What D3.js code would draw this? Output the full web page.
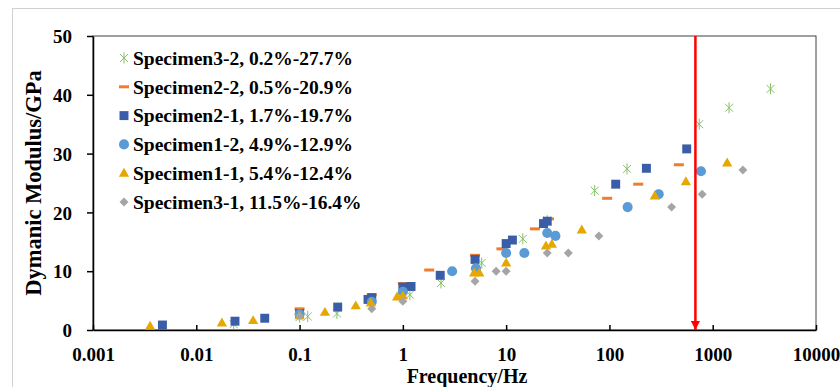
<!DOCTYPE html>
<html>
<head>
<meta charset="utf-8">
<script src="https://cdn.jsdelivr.net/npm/d3@7"></script>
<style>
  body { margin: 0; background: #fff; }
  svg { display: block; }
  .tick-label { font-family: "Liberation Serif", "Times New Roman", serif; font-weight: bold; font-size: 19px; }
  .legend-text { font-family: "Liberation Serif", "Times New Roman", serif; font-weight: bold; font-size: 19.5px; }
  .axis-title { font-family: "Liberation Serif", "Times New Roman", serif; font-weight: bold; font-size: 20px; }
</style>
</head>
<body>
<div id="chart"></div>
<script>
// [frequency Hz, modulus GPa]
const specimen32 = [[0.023, 1.0], [0.1, 2.2], [0.12, 2.3], [0.23, 2.8], [1.17, 6.0], [2.34, 8.0],
  [5.8, 11.4], [14.5, 15.5], [25, 18.6], [72, 23.7], [148, 27.4], [740, 35], [1440, 37.8], [3630, 41]]
const specimen22 = [[0.1, 3.6], [0.5, 6.0], [1, 7.9], [1.8, 10.2], [5, 12.7], [9, 13.8], [19, 17.2],
  [26, 18.9], [95, 22.4], [190, 24.8], [470, 28.1]]
const specimen21 = [[0.0047, 0.85], [0.0237, 1.5], [0.046, 2.0], [0.1, 2.8], [0.234, 3.9], [0.46, 5.2],
  [0.5, 5.5], [1, 7.3], [1.2, 7.4], [2.3, 9.3], [5, 12], [10, 14.7], [11.5, 15.3], [23, 18.1], [25, 18.5],
  [115, 24.8], [228, 27.5], [560, 30.8]]
const specimen12 = [[0.1, 2.7], [0.5, 4.8], [1, 6.5], [3, 10], [5.1, 10.5], [10, 13.1], [15, 13.1],
  [25, 16.5], [30, 16], [150, 20.9], [300, 23.1], [770, 27]]
const specimen11 = [[0.00357, 0.65], [0.0177, 1.2], [0.0355, 1.6], [0.1, 2.4], [0.176, 3.0], [0.35, 4.1],
  [0.49, 4.6], [0.88, 5.6], [1, 5.8], [4.9, 9.7], [5.5, 9.7], [10, 11.4], [24.3, 14.3], [27.7, 14.6],
  [54, 17], [275, 22.8], [550, 25.2], [1380, 28.4]]
const specimen31 = [[0.1, 2.4], [0.5, 3.6], [1, 4.9], [5, 8.3], [8, 10], [10, 10], [25, 13.1], [40, 13.1],
  [79, 16], [400, 20.9], [790, 23.1], [1960, 27.2]]

const seriesNames = ['Specimen3-2, 0.2%-27.7%', 'Specimen2-2, 0.5%-20.9%', 'Specimen2-1, 1.7%-19.7%',
  'Specimen1-2, 4.9%-12.9%', 'Specimen1-1, 5.4%-12.4%', 'Specimen3-1, 11.5%-16.4%']
const xTicks = [0.001, 0.01, 0.1, 1, 10, 100, 1000, 10000]
const yTicks = [0, 10, 20, 30, 40, 50]
const redLineFreq = 680

const series = [
  { name: seriesNames[0], data: specimen32, shape: 'asterisk', color: '#86bf67' },
  { name: seriesNames[1], data: specimen22, shape: 'dash', color: '#ed7d31' },
  { name: seriesNames[2], data: specimen21, shape: 'square', color: '#3a5da8' },
  { name: seriesNames[3], data: specimen12, shape: 'circle', color: '#5b9bd5' },
  { name: seriesNames[4], data: specimen11, shape: 'triangle', color: '#e5a700' },
  { name: seriesNames[5], data: specimen31, shape: 'diamond', color: '#a5a5a5' },
]

const W = 840, H = 387
const margin = { top: 36, right: 24, bottom: 57, left: 93 }

const svg = d3.select('#chart').append('svg')
  .attr('width', W)
  .attr('height', H)

// outer chart frame
svg.append('rect')
  .attr('x', 12.5).attr('y', 8.5)
  .attr('width', W).attr('height', H)
  .attr('fill', 'none')
  .attr('stroke', '#d0d0d0')

const x = d3.scaleLog()
  .domain([0.001, 10000])
  .range([margin.left, W - margin.right])

const y = d3.scaleLinear()
  .domain([0, 50])
  .range([H - margin.bottom, margin.top])

// plot area border (top, right)
svg.append('rect')
  .attr('x', x(0.001)).attr('y', y(50))
  .attr('width', x(10000) - x(0.001))
  .attr('height', y(0) - y(50))
  .attr('fill', 'none')
  .attr('stroke', '#404040')
  .attr('stroke-width', 1)

const xAxis = svg.append('g')
  .attr('transform', 'translate(0,' + y(0) + ')')
  .call(d3.axisBottom(x).tickValues(xTicks).tickFormat(d => String(d)).tickSize(-5).tickSizeOuter(0).tickPadding(18))
xAxis.select('.domain').attr('stroke', '#000').attr('stroke-width', 1.5)
xAxis.selectAll('.tick line').attr('stroke', '#000').attr('stroke-width', 1.5)
xAxis.selectAll('.tick text').attr('class', 'tick-label').attr('fill', '#000')
xAxis.attr('font-family', null).attr('font-size', null)

const yAxis = svg.append('g')
  .attr('transform', 'translate(' + x(0.001) + ',0)')
  .call(d3.axisLeft(y).tickValues(yTicks).tickSize(6).tickSizeOuter(0).tickPadding(15))
yAxis.select('.domain').attr('stroke', '#000').attr('stroke-width', 1.5)
yAxis.selectAll('.tick line').attr('stroke', '#000').attr('stroke-width', 1.5)
yAxis.selectAll('.tick text').attr('class', 'tick-label').attr('fill', '#000').attr('dy', '0.35em')
yAxis.attr('font-family', null).attr('font-size', null)

function drawMarker(g, shape, color) {
  if (shape === 'square') {
    g.append('path').attr('d', d3.symbol(d3.symbolSquare, 80)()).attr('fill', color)
  } else if (shape === 'circle') {
    g.append('path').attr('d', d3.symbol(d3.symbolCircle, 80)()).attr('fill', color)
  } else if (shape === 'triangle') {
    g.append('path').attr('d', d3.symbol(d3.symbolTriangle, 46)()).attr('fill', color)
      .attr('transform', 'translate(0,0.5)')
  } else if (shape === 'diamond') {
    g.append('path').attr('d', d3.symbol(d3.symbolSquare, 40)()).attr('fill', color)
      .attr('transform', 'rotate(45)')
  } else if (shape === 'dash') {
    g.append('rect').attr('x', -5).attr('y', -1.5).attr('width', 10).attr('height', 3).attr('fill', color)
  } else if (shape === 'asterisk') {
    const r = 5.5, d = r * 0.72
    g.append('path')
      .attr('d', `M0,${-r}L0,${r}M${-d},${-d}L${d},${d}M${-d},${d}L${d},${-d}`)
      .attr('stroke', color).attr('stroke-width', 1).attr('fill', 'none')
  }
}

series.forEach(s => {
  svg.append('g').selectAll('g')
    .data(s.data)
    .enter().append('g')
    .attr('transform', d => 'translate(' + x(d[0]) + ',' + y(d[1]) + ')')
    .each(function () { drawMarker(d3.select(this), s.shape, s.color) })
})

// red reference line with arrow
svg.append('defs').append('marker')
  .attr('id', 'arrow')
  .attr('viewBox', '0 0 10 10')
  .attr('refX', 10).attr('refY', 5)
  .attr('markerWidth', 3.6).attr('markerHeight', 3.6)
  .attr('orient', 'auto')
  .append('path').attr('d', 'M0,0L10,5L0,10Z').attr('fill', '#ff0000')

svg.append('line')
  .attr('x1', x(redLineFreq)).attr('x2', x(redLineFreq))
  .attr('y1', y(50)).attr('y2', y(0))
  .attr('stroke', '#ff0000')
  .attr('stroke-width', 2.5)
  .attr('marker-end', 'url(#arrow)')

// legend
const legend = svg.append('g')
series.forEach((s, i) => {
  const row = legend.append('g').attr('transform', 'translate(124,' + (58 + i * 28.8) + ')')
  drawMarker(row.append('g'), s.shape, s.color)
  row.append('text')
    .attr('class', 'legend-text')
    .attr('x', 9)
    .attr('dy', '0.35em')
    .text(s.name)
})

// axis titles
svg.append('text')
  .attr('class', 'axis-title')
  .attr('transform', 'translate(41,' + ((y(0) + y(50)) / 2) + ') rotate(-90)')
  .attr('text-anchor', 'middle')
  .style('font-size', '22.5px')
  .text('Dymanic Modulus/GPa')

svg.append('text')
  .attr('class', 'axis-title')
  .attr('x', 467)
  .attr('y', 382.5)
  .attr('text-anchor', 'middle')
  .text('Frequency/Hz')
</script>
</body>
</html>
